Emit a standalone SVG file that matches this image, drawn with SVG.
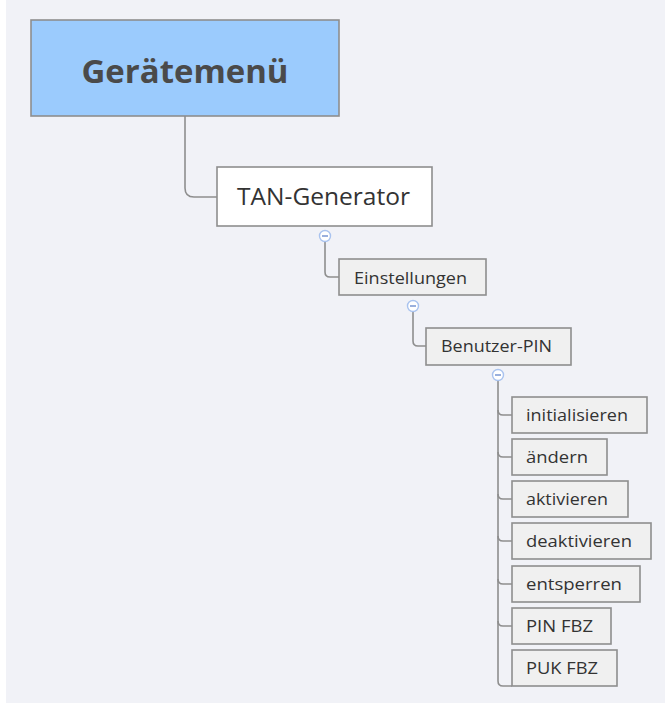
<svg xmlns="http://www.w3.org/2000/svg" width="665" height="703" viewBox="0 0 665 703">
<defs>
<style>
.bg{fill:#f1f2f7}
.box{fill:#f0f0f0;stroke:#8e8e8e;stroke-width:1.6}
.lbl{font-family:"Open Sans","Noto Sans","DejaVu Sans",sans-serif;font-size:17px;fill:#333}
.conn{fill:none;stroke:#8e8e8e;stroke-width:1.6}
.tog circle{fill:#fff;stroke:#a9c3ef;stroke-width:1.4}
.tog line{stroke:#6f8fcf;stroke-width:1.4}
</style>
</defs>
<rect class="bg" x="6" y="0" width="659" height="703"/>
<g id="connectors">
<path class="conn" d="M185 116 V188 Q185 197 194 197 H217"/>
<path class="conn" d="M325 241 V272 Q325 277 330 277 H339"/>
<path class="conn" d="M413 311 V341 Q413 346 418 346 H426"/>
<path class="conn" d="M498 380 V681 Q498 686 503 686 H512"/>
<path class="conn" d="M498 410 Q498 415 503 415 H512"/>
<path class="conn" d="M498 452 Q498 457 503 457 H512"/>
<path class="conn" d="M498 494 Q498 499 503 499 H512"/>
<path class="conn" d="M498 536 Q498 541 503 541 H512"/>
<path class="conn" d="M498 579 Q498 584 503 584 H512"/>
<path class="conn" d="M498 621 Q498 626 503 626 H512"/>
</g>
<g id="root">
<rect x="31" y="20" width="308" height="96" fill="#9bcbfd" stroke="#8e8e8e" stroke-width="1.6"/>
<text x="185" y="83" text-anchor="middle" font-family="'Open Sans','Noto Sans','DejaVu Sans',sans-serif" font-weight="bold" font-size="33" fill="#4a4a4a" textLength="207" lengthAdjust="spacingAndGlyphs">Gerätemenü</text>
</g>
<g id="tan">
<rect x="217" y="167" width="215" height="59" fill="#fff" stroke="#8e8e8e" stroke-width="1.6"/>
<text x="237" y="205" font-family="'Open Sans','Noto Sans','DejaVu Sans',sans-serif" font-size="23" fill="#333" textLength="173" lengthAdjust="spacingAndGlyphs">TAN-Generator</text>
<g class="tog"><circle cx="325" cy="236" r="5.5"/><line x1="322" y1="236" x2="328" y2="236"/></g>
</g>
<g id="einstellungen">
<rect class="box" x="339" y="259" width="147" height="36"/>
<text class="lbl" x="354" y="284" textLength="113" lengthAdjust="spacingAndGlyphs">Einstellungen</text>
<g class="tog"><circle cx="413" cy="306" r="5.5"/><line x1="410" y1="306" x2="416" y2="306"/></g>
</g>
<g id="benutzer-pin">
<rect class="box" x="426" y="328" width="145" height="37"/>
<text class="lbl" x="441" y="352" textLength="111" lengthAdjust="spacingAndGlyphs">Benutzer-PIN</text>
<g class="tog"><circle cx="498" cy="375" r="5.5"/><line x1="495" y1="375" x2="501" y2="375"/></g>
</g>
<g id="initialisieren">
<rect class="box" x="512" y="397" width="135" height="36"/>
<text class="lbl" x="526" y="421" textLength="102" lengthAdjust="spacingAndGlyphs">initialisieren</text>
</g>
<g id="aendern">
<rect class="box" x="512" y="439" width="95" height="36"/>
<text class="lbl" x="526" y="463" textLength="62" lengthAdjust="spacingAndGlyphs">ändern</text>
</g>
<g id="aktivieren">
<rect class="box" x="512" y="481" width="116" height="36"/>
<text class="lbl" x="526" y="505" textLength="82" lengthAdjust="spacingAndGlyphs">aktivieren</text>
</g>
<g id="deaktivieren">
<rect class="box" x="512" y="523" width="139" height="36"/>
<text class="lbl" x="526" y="547" textLength="106" lengthAdjust="spacingAndGlyphs">deaktivieren</text>
</g>
<g id="entsperren">
<rect class="box" x="512" y="566" width="128" height="36"/>
<text class="lbl" x="526" y="590" textLength="96" lengthAdjust="spacingAndGlyphs">entsperren</text>
</g>
<g id="pin-fbz">
<rect class="box" x="512" y="608" width="99" height="36"/>
<text class="lbl" x="526" y="632" textLength="67" lengthAdjust="spacingAndGlyphs">PIN FBZ</text>
</g>
<g id="puk-fbz">
<rect class="box" x="512" y="650" width="105" height="36"/>
<text class="lbl" x="526" y="674" textLength="72" lengthAdjust="spacingAndGlyphs">PUK FBZ</text>
</g>
</svg>
